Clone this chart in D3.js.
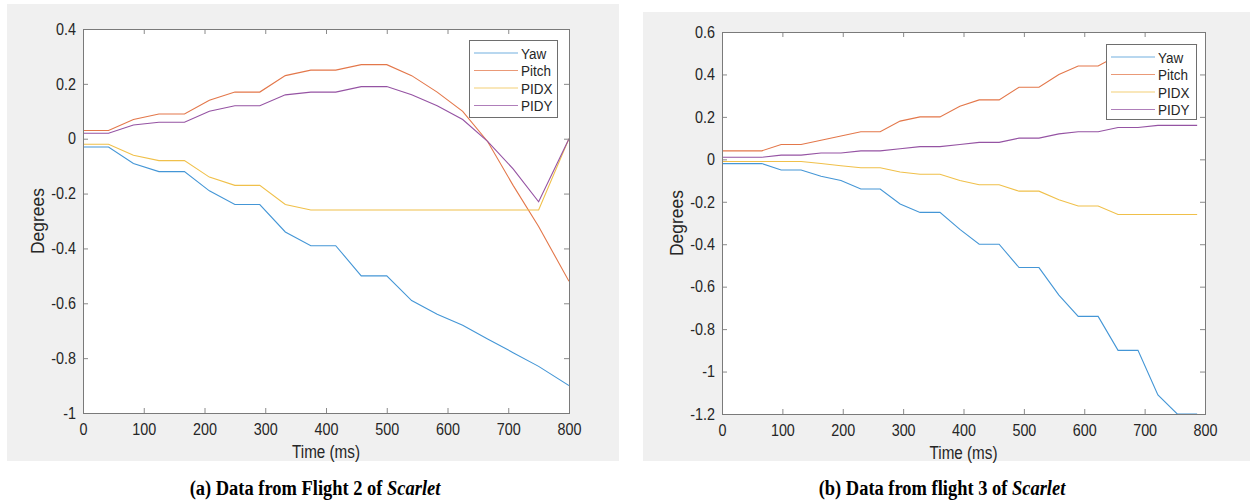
<!DOCTYPE html>
<html lang="en">
<head>
    <meta charset="UTF-8">
    <script src="https://d3js.org/d3.v7.min.js"></script>
    <title>Scarlet flights</title>
    <style>
        body { margin: 0; background: #fff; }
        text { font-family: "Liberation Sans", Arial, sans-serif; fill: #262626; }
        .caption { font-family: "Liberation Serif", "Times New Roman", serif; font-weight: bold; fill: #000; }
    </style>
</head>
<body>
<svg id="chart" width="1250" height="503"></svg>
<script>
    // Flight 2 (left panel)
    var timeA  = [0, 42, 83, 125, 167, 208, 250, 291, 333, 375, 416, 458, 500, 541, 583, 625, 666, 708, 750, 800];
    var yawA   = [-0.03, -0.03, -0.09, -0.12, -0.12, -0.19, -0.24, -0.24, -0.34, -0.39, -0.39, -0.50, -0.50, -0.59, -0.64, -0.68, -0.73, -0.78, -0.83, -0.90];
    var pitchA = [0.03, 0.03, 0.07, 0.09, 0.09, 0.14, 0.17, 0.17, 0.23, 0.25, 0.25, 0.27, 0.27, 0.23, 0.17, 0.10, -0.01, -0.17, -0.32, -0.52];
    var pidxA  = [-0.02, -0.02, -0.06, -0.08, -0.08, -0.14, -0.17, -0.17, -0.24, -0.26, -0.26, -0.26, -0.26, -0.26, -0.26, -0.26, -0.26, -0.26, -0.26, 0.00];
    var pidyA  = [0.02, 0.02, 0.05, 0.06, 0.06, 0.10, 0.12, 0.12, 0.16, 0.17, 0.17, 0.19, 0.19, 0.16, 0.12, 0.07, -0.01, -0.11, -0.23, 0.00];
    var yTicksA = [0.4, 0.2, 0, -0.2, -0.4, -0.6, -0.8, -1];

    // Flight 3 (right panel)
    var timeB  = [0, 33, 66, 98, 131, 164, 197, 230, 262, 295, 328, 361, 394, 426, 459, 492, 525, 558, 590, 623, 656, 689, 722, 754, 787];
    var yawB   = [-0.02, -0.02, -0.02, -0.05, -0.05, -0.08, -0.10, -0.14, -0.14, -0.21, -0.25, -0.25, -0.33, -0.40, -0.40, -0.51, -0.51, -0.64, -0.74, -0.74, -0.90, -0.90, -1.11, -1.20, -1.20];
    var pitchB = [0.04, 0.04, 0.04, 0.07, 0.07, 0.09, 0.11, 0.13, 0.13, 0.18, 0.20, 0.20, 0.25, 0.28, 0.28, 0.34, 0.34, 0.40, 0.44, 0.44, 0.49, 0.52, 0.54, 0.54, 0.54];
    var pidxB  = [-0.01, -0.01, -0.01, -0.01, -0.01, -0.02, -0.03, -0.04, -0.04, -0.06, -0.07, -0.07, -0.10, -0.12, -0.12, -0.15, -0.15, -0.19, -0.22, -0.22, -0.26, -0.26, -0.26, -0.26, -0.26];
    var pidyB  = [0.01, 0.01, 0.01, 0.02, 0.02, 0.03, 0.03, 0.04, 0.04, 0.05, 0.06, 0.06, 0.07, 0.08, 0.08, 0.10, 0.10, 0.12, 0.13, 0.13, 0.15, 0.15, 0.16, 0.16, 0.16];
    var yTicksB = [0.6, 0.4, 0.2, 0, -0.2, -0.4, -0.6, -0.8, -1, -1.2];

    var xTicks = [0, 100, 200, 300, 400, 500, 600, 700, 800];
    var seriesNames = ["Yaw", "Pitch", "PIDX", "PIDY"];
    var colors = ["#4496d6", "#e3774a", "#f0c04a", "#9553a3"];

    // the source figure is squeezed sideways, so horizontal text is narrowed
    var squeeze = "scale(0.87,1)";

    var svg = d3.select("#chart");

    function styleTicks(g, withText) {
        g.select(".domain").remove();
        g.selectAll("line").attr("stroke", "#8a8a8a");
        if (withText) {
            g.selectAll("text")
                .attr("font-size", "16.5px")
                .attr("fill", "#262626")
                .attr("font-family", "Liberation Sans, Arial, sans-serif")
                .attr("transform", squeeze);
        }
    }

    function drawPanel(p) {
        // grey figure background
        svg.append("rect")
            .attr("x", p.bg[0]).attr("y", p.bg[1])
            .attr("width", p.bg[2]).attr("height", p.bg[3])
            .attr("fill", "#f0f0f0");

        var x = d3.scaleLinear().domain([0, 800]).range([p.left, p.right]);
        var y = d3.scaleLinear().domain(p.yDomain).range([p.bottom, p.top]);
        var w = p.right - p.left, h = p.bottom - p.top;

        svg.append("rect")
            .attr("x", p.left).attr("y", p.top)
            .attr("width", w).attr("height", h)
            .attr("fill", "#fff");

        var clipId = "clip" + p.id;
        svg.append("clipPath").attr("id", clipId)
            .append("rect")
            .attr("x", p.left).attr("y", p.top - 1)
            .attr("width", w).attr("height", h + 2);

        var line = d3.line()
            .x(function(d) { return x(d[0]); })
            .y(function(d) { return y(d[1]); });

        var lines = svg.append("g").attr("clip-path", "url(#" + clipId + ")");
        p.series.forEach(function(vals, i) {
            var pts = p.time.map(function(t, j) { return [t, vals[j]]; });
            lines.append("path")
                .datum(pts)
                .attr("d", line)
                .attr("fill", "none")
                .attr("stroke", colors[i])
                .attr("stroke-width", 1.1);
        });

        // axes with inward ticks on all four sides
        var tickLen = 5;
        svg.append("g")
            .attr("transform", "translate(0," + p.bottom + ")")
            .call(d3.axisBottom(x).tickValues(xTicks).tickSizeInner(-tickLen).tickSizeOuter(0).tickPadding(10))
            .call(styleTicks, true);
        svg.append("g")
            .attr("transform", "translate(0," + p.top + ")")
            .call(d3.axisTop(x).tickValues(xTicks).tickSizeInner(-tickLen).tickSizeOuter(0).tickFormat(""))
            .call(styleTicks, false);
        svg.append("g")
            .attr("transform", "translate(" + p.left + ",0)")
            .call(d3.axisLeft(y).tickValues(p.yTicks).tickSizeInner(-tickLen).tickSizeOuter(0).tickPadding(8)
                .tickFormat(function(d) { return String(d); }))
            .call(styleTicks, true);
        svg.append("g")
            .attr("transform", "translate(" + p.right + ",0)")
            .call(d3.axisRight(y).tickValues(p.yTicks).tickSizeInner(-tickLen).tickSizeOuter(0).tickFormat(""))
            .call(styleTicks, false);

        // axes box
        svg.append("rect")
            .attr("x", p.left + 0.5).attr("y", p.top + 0.5)
            .attr("width", w).attr("height", h)
            .attr("fill", "none").attr("stroke", "#7a7a7a").attr("stroke-width", 1);

        // axis titles
        svg.append("text")
            .attr("transform", "translate(" + ((p.left + p.right) / 2) + "," + (p.bottom + 45) + ") " + squeeze)
            .attr("text-anchor", "middle").attr("font-size", "17.5px")
            .text("Time (ms)");
        svg.append("text")
            .attr("transform", "translate(" + (p.left - 39) + "," + ((p.top + p.bottom) / 2) + ") rotate(-90)")
            .attr("text-anchor", "middle").attr("font-size", "17.5px")
            .text("Degrees");

        // legend
        var lg = svg.append("g").attr("transform", "translate(" + p.legend[0] + "," + p.legend[1] + ")");
        lg.append("rect")
            .attr("x", 0.5).attr("y", 0.5)
            .attr("width", p.legend[2]).attr("height", p.legend[3])
            .attr("fill", "#fff").attr("stroke", "#6e6e6e");
        seriesNames.forEach(function(name, i) {
            var ry = 13 + i * 17.5;
            lg.append("line")
                .attr("x1", 5).attr("x2", 49)
                .attr("y1", ry).attr("y2", ry)
                .attr("stroke", colors[i]).attr("stroke-width", 1.1).attr("opacity", 0.75);
            lg.append("text")
                .attr("transform", "translate(52," + (ry + 5.5) + ") " + squeeze)
                .attr("font-size", "15.5px")
                .text(name);
        });

        // caption
        var cap = svg.append("text")
            .attr("class", "caption")
            .attr("transform", "translate(" + p.caption[0] + "," + p.caption[1] + ") scale(0.9,1)")
            .attr("text-anchor", "middle").attr("font-size", "20.5px");
        cap.append("tspan").text(p.captionText);
        cap.append("tspan").attr("font-style", "italic").text("Scarlet");
    }

    drawPanel({
        id: "A", bg: [7, 4, 612, 457],
        left: 83, right: 569, top: 29, bottom: 413,
        yDomain: [-1, 0.4], yTicks: yTicksA,
        time: timeA, series: [yawA, pitchA, pidxA, pidyA],
        legend: [469, 40, 88, 77],
        caption: [315, 495], captionText: "(a) Data from Flight 2 of "
    });
    drawPanel({
        id: "B", bg: [643, 12, 607, 449],
        left: 722, right: 1205, top: 32, bottom: 414,
        yDomain: [-1.2, 0.6], yTicks: yTicksB,
        time: timeB, series: [yawB, pitchB, pidxB, pidyB],
        legend: [1106, 44, 90, 75],
        caption: [942, 495], captionText: "(b) Data from flight 3 of "
    });
</script>
</body>
</html>
